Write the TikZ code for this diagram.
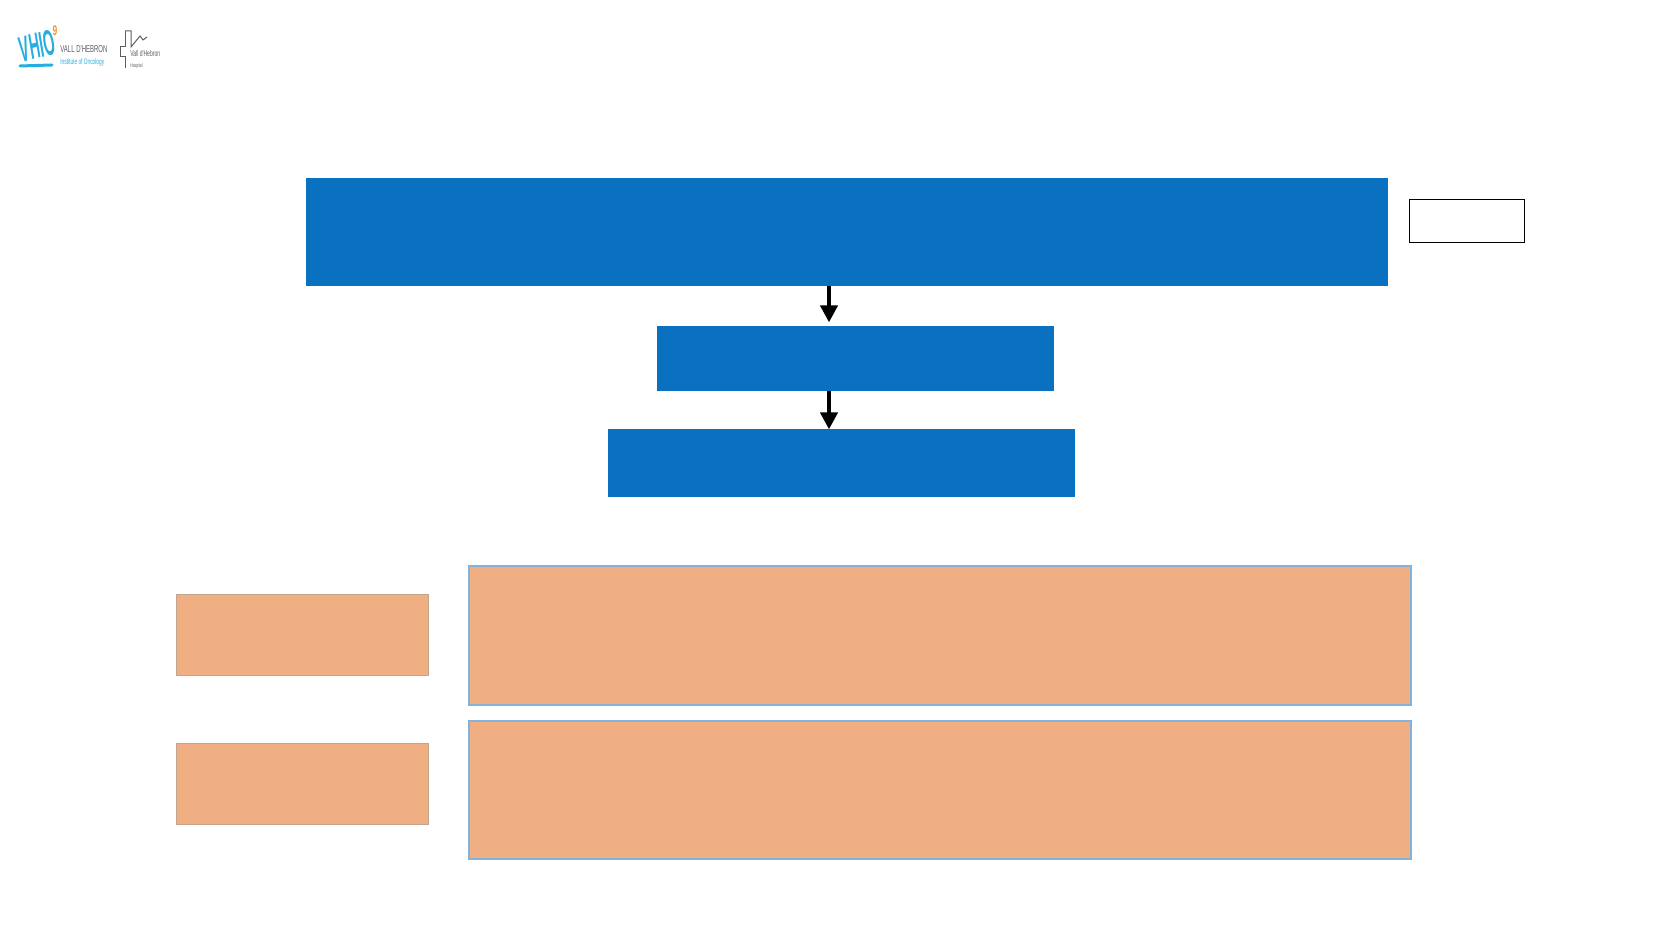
\documentclass[tikz,border=0pt]{standalone}
\usepackage{fontspec}
\setmainfont{Liberation Sans}
\newfontfamily\narrowfont[FakeStretch=0.6]{Liberation Sans}
\newfontfamily\vhiofont[FakeStretch=0.4]{Liberation Sans}
\usetikzlibrary{arrows.meta}
\definecolor{flowblue}{HTML}{0971BF}
\definecolor{sideorange}{HTML}{F0AF82}
\definecolor{sideedge}{HTML}{C4A48C}
\definecolor{frameblue}{HTML}{84B2DA}
\definecolor{logoblue}{HTML}{27AEDF}
\definecolor{logotext}{HTML}{5A5F63}
\definecolor{logoorange}{HTML}{F0923C}
\tikzset{
    flowbox/.style={fill=flowblue,draw=none,inner sep=0pt},
    sidebox/.style={fill=sideorange,draw=sideedge,line width=0.5pt,inner sep=0pt},
    framebox/.style={fill=sideorange,draw=frameblue,line width=1.2pt,inner sep=0pt},
    flowarrow/.style={line width=2pt,-{Triangle[length=8.5pt,width=8.5pt]}},
}
\begin{document}
\begin{tikzpicture}[x=0.5pt,y=-0.5pt]
        \useasboundingbox (0,0) rectangle (1680,945);
        %% flow boxes
        \node[flowbox,minimum width=541pt,minimum height=54pt] (topbox) at (847,232) {};
        \node[flowbox,minimum width=198.5pt,minimum height=32.5pt] (midbox) at (855.5,358.5) {};
        \node[flowbox,minimum width=233.5pt,minimum height=34pt] (lowbox) at (841.5,463) {};
        \node[draw=black,line width=0.6pt,inner sep=0pt,minimum width=57.5pt,minimum height=21.5pt] (notebox) at (1467,221) {};
        %% arrows
        \coordinate (arrowline) at (829,0);
        \draw[flowarrow,shorten >=1.6pt] (topbox.south -| arrowline) -- (midbox.north -| arrowline);
        \draw[flowarrow,shorten >=-0.4pt] (midbox.south -| arrowline) -- (lowbox.north -| arrowline);
        %% left boxes
        \node[sidebox,minimum width=126pt,minimum height=40.5pt] (sideone) at (302.5,635) {};
        \node[sidebox,minimum width=126pt,minimum height=40.5pt] (sidetwo) at (302.5,784) {};
        %% right boxes
        \node[framebox,minimum width=471pt,minimum height=69.5pt] (frameone) at (940,635.5) {};
        \node[framebox,minimum width=471pt,minimum height=69pt] (frametwo) at (940,790) {};
        %% logo
        \node[inner sep=0pt,rotate=14,text=logoblue] (vhio) at (37,46)
            {\vhiofont\bfseries\itshape\fontsize{18}{18}\selectfont VHIO};
        \draw[logoblue,line width=1.5pt,line cap=round] (20,66) -- (52,65);
        \node[inner sep=0pt,text=logoorange] (vhiomark) at (55,31)
            {\narrowfont\bfseries\fontsize{7}{7}\selectfont 9};
        \node[inner sep=0pt,anchor=west,text=logotext] (vallname) at (60,49)
            {\narrowfont\fontsize{5}{6}\selectfont VALL D'HEBRON};
        \node[inner sep=0pt,anchor=west,text=logoblue] (vallinst) at (60,62)
            {\narrowfont\fontsize{4}{6}\selectfont Institute of Oncology};
        \draw[logotext,line width=0.5pt] (125,31) -- (131,31) -- (131,47) -- (140,36) -- (143,40) -- (147,37);
        \draw[logotext,line width=0.5pt] (125,31) -- (125,47) -- (120,47) -- (120,57) -- (125,57) -- (125,68);
        \node[inner sep=0pt,anchor=west,text=logotext] (hospname) at (130,54)
            {\narrowfont\fontsize{4.2}{6}\selectfont Vall d'Hebron};
        \node[inner sep=0pt,anchor=west,text=logotext] (hospword) at (130,66)
            {\narrowfont\fontsize{2.8}{4}\selectfont Hospital};
    \end{tikzpicture}
\end{document}
